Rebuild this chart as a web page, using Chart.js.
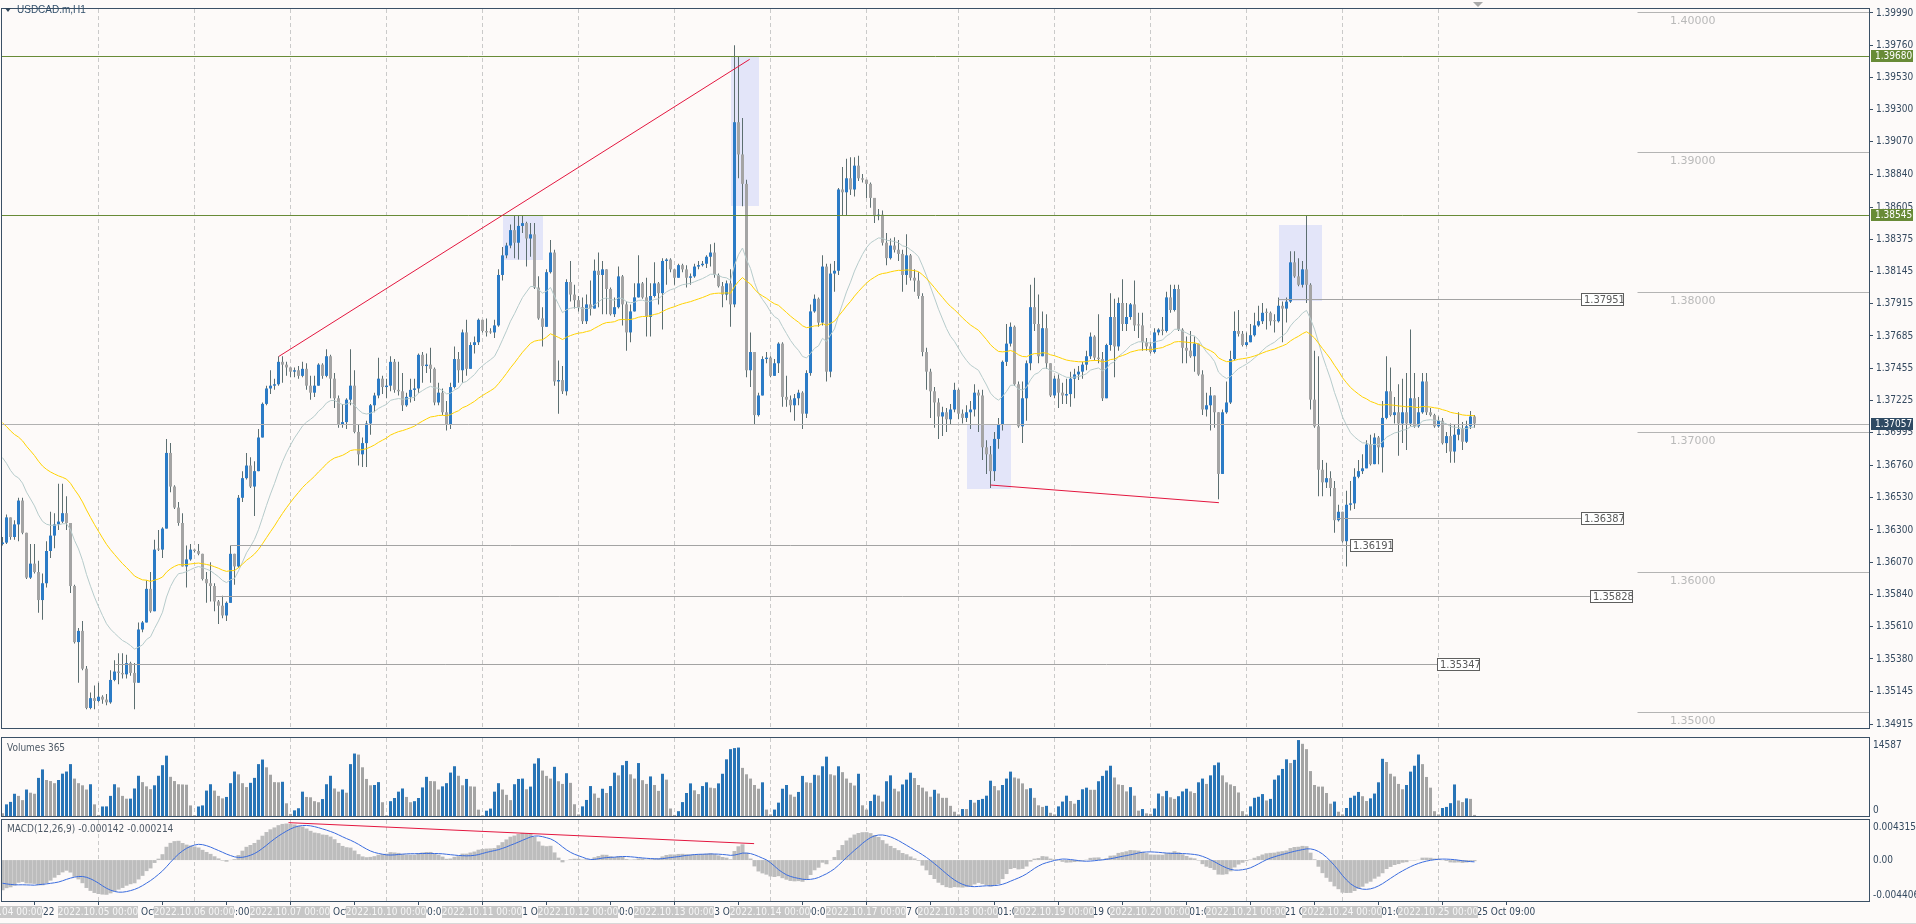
<!DOCTYPE html>
<html>
<head>
<meta charset="utf-8">
<title>USDCAD.m,H1</title>
<script src="https://cdn.jsdelivr.net/npm/chart.js@4.4.1/dist/chart.umd.min.js"></script>
<style>
  html, body { margin: 0; padding: 0; background: #fdfaf9; overflow: hidden; }
  #chartBox { position: relative; width: 1916px; height: 924px; background: #fdfaf9; border-bottom: 1px solid #d8d8d8; box-sizing: border-box; }
  #chartBox canvas { position: absolute; left: 0; }
</style>
</head>
<body>
<div id="chartBox">
  <canvas id="priceChart" width="1916" height="737" style="top:0"></canvas>
  <canvas id="volumeChart" width="1916" height="81" style="top:737px"></canvas>
  <canvas id="macdChart" width="1916" height="106" style="top:818px"></canvas>
</div>
<script>
// ---------------- data (H1 bars, 2022.10.04 00:00 .. 2022.10.25 09:00) ----------------
const firstOpen = 1.3620;

const closes = [
  1.3621,1.3639,1.3625,1.3634,1.3651,1.3628,1.3596,1.3606,1.3600,1.3580,1.3592,1.3615,1.3626,1.3634,1.3636,1.3642,1.3635,1.3590,1.3550,1.3558,1.3531,1.3503,1.3510,1.3508,
  1.3511,1.3509,1.3507,1.3523,1.3529,1.3528,1.3527,1.3535,1.3528,1.3521,1.3559,1.3564,1.3588,1.3572,1.3616,1.3616,1.3631,1.3685,1.3661,1.3646,1.3635,1.3604,1.3609,1.3616,
  1.3615,1.3613,1.3595,1.3592,1.3590,1.3579,1.3576,1.3569,1.3578,1.3613,1.3604,1.3653,1.3667,1.3676,1.3661,1.3672,1.3696,1.3720,1.3731,1.3733,1.3734,1.3750,1.3748,1.3746,
  1.3743,1.3744,1.3740,1.3745,1.3733,1.3728,1.3733,1.3748,1.3740,1.3754,1.3738,1.3724,1.3705,1.3707,1.3723,1.3733,1.3700,1.3684,1.3692,1.3706,1.3719,1.3726,1.3738,1.3732,
  1.3733,1.3750,1.3730,1.3729,1.3719,1.3725,1.3730,1.3731,1.3755,1.3747,1.3748,1.3745,1.3721,1.3728,1.3714,1.3705,1.3732,1.3752,1.3744,1.3771,1.3745,1.3762,1.3764,1.3780,
  1.3772,1.3771,1.3771,1.3776,1.3812,1.3826,1.3833,1.3844,1.3835,1.3847,1.3849,1.3838,1.3841,1.3803,1.3781,1.3775,1.3814,1.3828,1.3736,1.3737,1.3729,1.3807,1.3798,1.3794,
  1.3789,1.3779,1.3791,1.3788,1.3815,1.3812,1.3816,1.3802,1.3784,1.3789,1.3811,1.3791,1.3771,1.3786,1.3796,1.3806,1.3796,1.3782,1.3797,1.3806,1.3799,1.3822,1.3823,1.3816,
  1.3810,1.3819,1.3816,1.3810,1.3811,1.3818,1.3819,1.3820,1.3825,1.3828,1.3812,1.3804,1.3798,1.3806,1.3791,1.3921,1.3898,1.3877,1.3744,1.3757,1.3712,1.3726,1.3752,1.3753,
  1.3740,1.3749,1.3763,1.3725,1.3723,1.3719,1.3724,1.3728,1.3713,1.3742,1.3786,1.3795,1.3778,1.3818,1.3743,1.3813,1.3815,1.3873,1.3871,1.3881,1.3873,1.3890,1.3881,1.3880,
  1.3877,1.3867,1.3854,1.3855,1.3835,1.3824,1.3833,1.3830,1.3827,1.3812,1.3826,1.3810,1.3808,1.3797,1.3757,1.3743,1.3729,1.3721,1.3711,1.3714,1.3709,1.3716,1.3730,
  1.3713,1.3710,1.3714,1.3716,1.3728,1.3726,1.3689,1.3684,1.3672,1.3695,1.3705,1.3750,1.3763,1.3775,1.3734,1.3704,1.3724,1.3749,1.3789,1.3777,1.3754,1.3774,1.3749,1.3726,
  1.3738,1.3728,1.3726,1.3727,1.3738,1.3741,1.3743,1.3748,1.3754,1.3768,1.3753,1.3752,1.3724,1.3762,1.3782,1.3761,1.3792,1.3777,1.3782,1.3791,1.3776,1.3776,1.3764,1.3761,
  1.3757,1.3771,1.3773,1.3772,1.3796,1.3787,1.3802,1.3773,1.3760,1.3758,1.3754,1.3763,1.3741,1.3716,1.3719,1.3726,1.3714,1.3670,1.3714,1.3721,1.3752,1.3772,1.3770,1.3762,
  1.3764,1.3769,1.3776,1.3779,1.3785,1.3785,1.3779,1.3779,1.3790,1.3788,1.3793,1.3821,1.3811,1.3805,1.3816,1.3805,1.3723,1.3704,1.3673,1.3664,1.3667,1.3660,1.3637,1.3643,
  1.3622,1.3648,1.3649,1.3668,1.3672,1.3674,1.3691,1.3677,1.3696,1.3689,1.3710,1.3729,1.3712,1.3714,1.3706,1.3714,1.3706,1.3724,1.3704,1.3714,1.3736,1.3714,1.3712,1.3704,
  1.3708,1.3692,1.3697,1.3686,1.3698,1.3702,1.3693,1.3704,1.3711,1.3706
];

const highs = [
  1.3625,1.3641,1.3639,1.3637,1.3653,1.3653,1.3628,1.3620,1.3620,1.3608,1.3599,1.3622,1.3643,1.3642,1.3663,1.3663,1.3654,1.3635,1.3591,1.3560,1.3565,1.3533,1.3514,1.3519,
  1.3521,1.3512,1.3513,1.3530,1.3537,1.3542,1.3542,1.3541,1.3536,1.3535,1.3564,1.3565,1.3594,1.3600,1.3623,1.3630,1.3632,1.3695,1.3692,1.3662,1.3650,1.3642,1.3619,1.3620,
  1.3616,1.3620,1.3613,1.3600,1.3607,1.3592,1.3580,1.3583,1.3579,1.3619,1.3613,1.3655,1.3672,1.3685,1.3682,1.3679,1.3702,1.3721,1.3733,1.3744,1.3738,1.3754,1.3754,1.3750,
  1.3744,1.3746,1.3747,1.3750,1.3749,1.3740,1.3740,1.3749,1.3749,1.3759,1.3755,1.3742,1.3726,1.3720,1.3724,1.3759,1.3744,1.3705,1.3696,1.3708,1.3720,1.3728,1.3753,1.3740,
  1.3738,1.3754,1.3752,1.3750,1.3742,1.3728,1.3738,1.3738,1.3756,1.3757,1.3756,1.3760,1.3746,1.3735,1.3731,1.3722,1.3735,1.3761,1.3757,1.3773,1.3780,1.3764,1.3768,1.3781,
  1.3777,1.3781,1.3774,1.3780,1.3816,1.3832,1.3835,1.3848,1.3854,1.3854,1.3854,1.3850,1.3849,1.3849,1.3811,1.3789,1.3816,1.3837,1.3830,1.3751,1.3747,1.3809,1.3822,1.3805,
  1.3797,1.3796,1.3798,1.3808,1.3823,1.3828,1.3822,1.3816,1.3803,1.3796,1.3818,1.3812,1.3793,1.3791,1.3806,1.3826,1.3807,1.3810,1.3806,1.3821,1.3807,1.3824,1.3824,1.3824,
  1.3812,1.3820,1.3820,1.3819,1.3813,1.3820,1.3822,1.3822,1.3826,1.3834,1.3835,1.3813,1.3807,1.3808,1.3816,1.3976,1.3968,1.3924,1.3880,1.3771,1.3757,1.3728,1.3754,1.3757,
  1.3754,1.3752,1.3764,1.3764,1.3740,1.3726,1.3727,1.3730,1.3729,1.3744,1.3791,1.3798,1.3796,1.3826,1.3820,1.3820,1.3822,1.3874,1.3889,1.3895,1.3896,1.3896,1.3897,1.3884,
  1.3880,1.3878,1.3867,1.3859,1.3858,1.3842,1.3838,1.3839,1.3837,1.3830,1.3841,1.3827,1.3816,1.3814,1.3799,1.3760,1.3745,1.3732,1.3724,1.3718,1.3717,1.3720,1.3735,
  1.3731,1.3716,1.3719,1.3722,1.3734,1.3730,1.3730,1.3694,1.3690,1.3700,1.3710,1.3751,1.3777,1.3778,1.3776,1.3736,1.3736,1.3751,1.3805,1.3810,1.3798,1.3786,1.3784,1.3745,
  1.3740,1.3741,1.3735,1.3738,1.3743,1.3745,1.3747,1.3750,1.3758,1.3771,1.3769,1.3784,1.3757,1.3763,1.3799,1.3795,1.3796,1.3809,1.3792,1.3792,1.3808,1.3785,1.3785,1.3767,
  1.3764,1.3774,1.3774,1.3782,1.3800,1.3805,1.3805,1.3805,1.3774,1.3768,1.3772,1.3768,1.3763,1.3744,1.3728,1.3732,1.3726,1.3712,1.3716,1.3736,1.3758,1.3786,1.3787,1.3772,
  1.3771,1.3777,1.3785,1.3790,1.3792,1.3788,1.3786,1.3784,1.3796,1.3793,1.3796,1.3829,1.3829,1.3824,1.3822,1.3854,1.3806,1.3758,1.3754,1.3680,1.3678,1.3672,1.3665,1.3648,
  1.3636,1.3658,1.3665,1.3674,1.3680,1.3684,1.3694,1.3698,1.3699,1.3697,1.3722,1.3754,1.3746,1.3725,1.3734,1.3738,1.3742,1.3773,1.3742,1.3725,1.3742,1.3742,1.3717,1.3713,
  1.3711,1.3710,1.3700,1.3706,1.3705,1.3714,1.3707,1.3708,1.3715,1.3712
];

const lows = [
  1.3619,1.3620,1.3623,1.3623,1.3622,1.3627,1.3595,1.3595,1.3599,1.3571,1.3566,1.3589,1.3610,1.3617,1.3630,1.3635,1.3630,1.3585,1.3549,1.3521,1.3530,1.3502,1.3502,1.3502,
  1.3507,1.3506,1.3505,1.3506,1.3522,1.3520,1.3524,1.3524,1.3526,1.3502,1.3521,1.3557,1.3564,1.3571,1.3572,1.3615,1.3610,1.3631,1.3657,1.3645,1.3633,1.3604,1.3589,1.3608,
  1.3614,1.3612,1.3594,1.3578,1.3579,1.3572,1.3563,1.3567,1.3565,1.3578,1.3591,1.3603,1.3650,1.3666,1.3660,1.3640,1.3672,1.3696,1.3719,1.3727,1.3730,1.3733,1.3735,1.3740,
  1.3739,1.3739,1.3738,1.3739,1.3730,1.3723,1.3725,1.3733,1.3738,1.3739,1.3724,1.3717,1.3703,1.3703,1.3702,1.3719,1.3699,1.3676,1.3675,1.3675,1.3698,1.3714,1.3724,1.3727,
  1.3724,1.3729,1.3728,1.3726,1.3715,1.3718,1.3721,1.3722,1.3728,1.3735,1.3742,1.3735,1.3719,1.3719,1.3712,1.3701,1.3702,1.3731,1.3735,1.3735,1.3740,1.3745,1.3756,1.3762,
  1.3771,1.3768,1.3770,1.3767,1.3775,1.3808,1.3824,1.3831,1.3824,1.3823,1.3842,1.3818,1.3825,1.3802,1.3780,1.3761,1.3775,1.3813,1.3733,1.3713,1.3727,1.3726,1.3793,1.3788,
  1.3786,1.3777,1.3777,1.3783,1.3788,1.3789,1.3784,1.3784,1.3783,1.3782,1.3788,1.3776,1.3758,1.3764,1.3786,1.3796,1.3795,1.3768,1.3768,1.3796,1.3791,1.3773,1.3805,1.3814,
  1.3805,1.3810,1.3814,1.3803,1.3805,1.3810,1.3816,1.3818,1.3817,1.3818,1.3810,1.3803,1.3789,1.3794,1.3775,1.3789,1.3881,1.3861,1.3739,1.3732,1.3705,1.3711,1.3726,1.3749,
  1.3739,1.3741,1.3742,1.3718,1.3718,1.3714,1.3708,1.3719,1.3702,1.3710,1.3740,1.3785,1.3775,1.3776,1.3736,1.3739,1.3800,1.3812,1.3854,1.3854,1.3869,1.3868,1.3879,1.3878,
  1.3867,1.3860,1.3849,1.3851,1.3833,1.3819,1.3823,1.3828,1.3822,1.3800,1.3805,1.3808,1.3800,1.3795,1.3754,1.3730,1.3710,1.3703,1.3695,1.3697,1.3700,1.3705,1.3714,
  1.3709,1.3706,1.3707,1.3702,1.3711,1.3700,1.3680,1.3670,1.3660,1.3665,1.3688,1.3701,1.3747,1.3761,1.3733,1.3703,1.3692,1.3708,1.3744,1.3772,1.3749,1.3755,1.3745,1.3725,
  1.3724,1.3717,1.3720,1.3720,1.3718,1.3724,1.3737,1.3738,1.3744,1.3752,1.3751,1.3749,1.3722,1.3724,1.3758,1.3739,1.3758,1.3772,1.3772,1.3780,1.3772,1.3767,1.3758,1.3758,
  1.3756,1.3756,1.3769,1.3769,1.3771,1.3785,1.3786,1.3772,1.3749,1.3749,1.3753,1.3743,1.3740,1.3712,1.3711,1.3701,1.3703,1.3652,1.3670,1.3713,1.3720,1.3751,1.3768,1.3761,
  1.3761,1.3764,1.3768,1.3775,1.3777,1.3773,1.3776,1.3771,1.3778,1.3764,1.3778,1.3792,1.3810,1.3804,1.3803,1.3792,1.3716,1.3703,1.3654,1.3654,1.3660,1.3654,1.3628,1.3636,
  1.3621,1.3604,1.3644,1.3645,1.3667,1.3670,1.3674,1.3676,1.3677,1.3677,1.3671,1.3709,1.3711,1.3706,1.3683,1.3692,1.3687,1.3704,1.3703,1.3703,1.3713,1.3712,1.3711,1.3703,
  1.3703,1.3691,1.3685,1.3678,1.3678,1.3694,1.3687,1.3692,1.3702,1.3703
];

const volumes = [
  528,2178,2640,4158,3762,2970,4950,4356,4158,7128,8712,6732,6534,6138,6732,7920,8316,9702,6996,6138,5742,4950,5940,2178,
  198,1782,1800,3762,5940,5346,3762,3234,3250,5148,7524,6336,5544,5016,5742,7524,9504,11286,7326,6534,5940,5900,5850,1980,
  132,1782,1980,4752,5940,4752,3762,3300,3564,6138,8316,7788,6138,5412,6204,7128,9702,10560,9108,7722,6336,6300,6400,2376,
  396,1056,1452,4554,3564,3500,2772,2574,3168,5940,7524,5148,4554,4950,4356,9702,11682,11484,9108,6930,5742,5800,6336,2574,
  132,2772,3366,4554,5148,3564,2574,2772,3366,5346,7326,6534,6500,4950,5544,6138,8118,9306,7524,5742,6930,5544,5500,1188,
  132,990,1386,4554,6138,4950,3960,2970,5940,6930,7000,5000,5500,9800,10800,8500,7500,7000,9200,6500,6000,8000,6200,2200,
  300,1800,3000,5600,4200,3400,5100,4300,5600,8100,7600,9500,10300,7800,7000,9900,6700,6000,7400,5800,4700,7900,6800,1400,
  200,900,2600,4300,6100,4800,4100,5600,6300,5300,5200,6100,7900,10600,12500,12700,12800,9000,7800,7000,5800,5100,6300,1200,
  300,1200,2500,5100,5800,4000,3600,4500,7500,6300,6200,7700,7600,9300,11100,7800,7600,9300,8200,7000,6200,5700,7900,2000,
  1200,2800,4000,3800,2700,6500,7600,5100,4600,5900,6800,8100,7100,5800,5300,4600,3600,4900,4200,3400,3400,1900,800,
  300,1300,1300,3000,2500,3000,3200,3800,6600,5600,4800,5800,7000,8300,7200,7000,6100,5000,5200,3400,2000,1700,1900,600,
  300,1800,2700,3800,2800,2300,3000,5000,5300,4900,4900,6500,7500,8500,9400,7200,5900,5800,4600,5400,3800,1000,1300,500,
  400,1400,4200,3700,4700,3500,3200,3700,4600,5100,4600,4300,6300,7000,6000,7600,9500,10000,7600,6300,5900,5600,4400,900,
  300,1800,3400,3600,4100,2900,3200,6800,7600,8800,10600,9900,10500,14200,13500,12500,8400,5800,5500,5500,4300,2300,2700,800,
  300,1500,3400,3800,4500,3700,2800,3300,4200,6300,10700,10100,7900,7400,6000,5000,5800,8300,9400,11500,9700,7300,5300,900,
  300,1500,1700,2400,5900,2900,2600,3300,3200,200
];

// indicator start levels seen at the left edge
const grayMaStart = 1.3688;     // EMA 20 (thin grey)
const yellowMaStart = 1.3710;   // EMA 50 (yellow)
const macdFastStart = 1.3645;
const macdSlowStart = 1.3678;
const macdSignalStart = -0.0024;

// axes
const priceMin = 1.34887, priceMax = 1.40018;
const priceTicks = [1.39990,1.39760,1.39530,1.39300,1.39070,1.38840,1.38605,1.38375,1.38145,1.37915,1.37685,
  1.37455,1.37225,1.36995,1.36760,1.36530,1.36300,1.36070,1.35840,1.35610,1.35380,1.35145,1.34915];
const volumeMax = 14587;
const volumeAxisLabels = [14587, 0];
const macdMax = 0.004315, macdMin = -0.004406;
const macdAxisLabels = [0.004315, 0, -0.004406];

const timeTickIndex = [0,16,32,48,64,80,96,112,128,144,160,176,192,208,224,240,256,272,288,304,320,336,352,368];
const timeTickLabels = ['4 Oct 2022','4 Oct 16:00','5 Oct 08:00','6 Oct 00:00','6 Oct 16:00','7 Oct 08:00',
  '10 Oct 00:00','10 Oct 16:00','11 Oct 08:00','12 Oct 00:00','12 Oct 16:00','13 Oct 08:00','14 Oct 00:00',
  '14 Oct 16:00','17 Oct 08:00','18 Oct 01:00','18 Oct 17:00','19 Oct 09:00','20 Oct 01:00','20 Oct 17:00',
  '21 Oct 09:00','24 Oct 01:00','24 Oct 17:00','25 Oct 09:00'];
const dayStarts = [0,24,48,72,96,120,144,168,192,216,239,263,287,311,335,359];
const dayLabels = ['2022.10.04 00:00','2022.10.05 00:00','2022.10.06 00:00','2022.10.07 00:00','2022.10.10 00:00',
  '2022.10.11 00:00','2022.10.12 00:00','2022.10.13 00:00','2022.10.14 00:00','2022.10.17 00:00','2022.10.18 00:00',
  '2022.10.19 00:00','2022.10.20 00:00','2022.10.21 00:00','2022.10.24 00:00','2022.10.25 00:00'];

// drawn objects on the chart (bar index / price)
const greenLevels = [1.39680, 1.38545];
const currentPrice = 1.37057;
const roundLevels = [1.40000, 1.39000, 1.38000, 1.37000, 1.36000, 1.35000];
const roundLevelStart = 408.75;
const supportLevels = [1.37951, 1.36387, 1.36191, 1.35828, 1.35347];
const supportStarts = [319, 333.75, 57, 53.25, 28.25];
const supportEnds = [394.5, 394.5, 336.75, 396.75, 358.5];
const zoneBoxes = [[182, 1.39680, 189, 1.38611], [125, 1.38545, 135, 1.38226], [241, 1.37049, 252, 1.36595], [319.1, 1.38475, 329.9, 1.37935]];
const trendLines = [[69.1, 1.37539, 186.8, 1.39659], [247, 1.36621, 304.1, 1.36495]];
const macdTrendLine = [71.5, 0.00403, 187.9, 0.00177];

// ---------------- derived series ----------------
const opens = closes.map((c, i) => i === 0 ? firstOpen : closes[i - 1]);

function ema(values, period, seed) {
  const k = 2 / (period + 1);
  let prev = seed;
  return values.map(v => (prev = prev + k * (v - prev)));
}
const grayMa = ema(closes, 20, grayMaStart);
const yellowMa = ema(closes, 50, yellowMaStart);
const fastEma = ema(closes, 12, macdFastStart);
const slowEma = ema(closes, 26, macdSlowStart);
const macdMain = fastEma.map((v, i) => v - slowEma[i]);
const macdSignal = macdMain.map((v, i) => {
  let sum = 0;
  for (let j = i - 8; j <= i; j++) sum += j < 0 ? macdSignalStart : macdMain[j];
  return sum / 9;
});

// ---------------- look ----------------
const frameColor = '#3b5066';
const axisText = '#34495f';
const upColor = '#2b7bc6';
const downColor = '#a4a4a4';
const wickColor = '#5c6e70';
const volUp = '#2874b6';
const sepColor = '#cacaca';
const axisFont = { family: "'DejaVu Sans Condensed','Liberation Sans Narrow','DejaVu Sans',sans-serif", size: 10 };
const fontStr = "10px 'DejaVu Sans Condensed','Liberation Sans Narrow','DejaVu Sans',sans-serif";
const titleFont = "10px 'Liberation Sans','DejaVu Sans',sans-serif";
const axisWidth = 47;
const xMin = -0.125, xMax = -0.125 + (1869 - 2) / 4;

Chart.defaults.font.family = axisFont.family;
Chart.defaults.font.size = 10;
Chart.defaults.color = axisText;

const idx = closes.map((_, i) => i);

function hiddenX() {
  return { type: 'linear', min: xMin, max: xMax, display: false, offset: false };
}
function fixedY(min, max) {
  return {
    position: 'right', min: min, max: max,
    afterFit: ax => { ax.width = axisWidth; },
    ticks: { display: false }, grid: { display: false }, border: { display: false }
  };
}

function drawSeparators(chart) {
  const { ctx, chartArea: a, scales: { x } } = chart;
  ctx.save();
  ctx.strokeStyle = sepColor;
  ctx.lineWidth = 1;
  ctx.setLineDash([4, 3]);
  dayStarts.forEach(d => {
    if (d === 0) return;
    const px = Math.floor(x.getPixelForValue(d)) + 0.5;
    ctx.beginPath();
    ctx.moveTo(px, a.top);
    ctx.lineTo(px, a.bottom);
    ctx.stroke();
  });
  ctx.restore();
}

function drawFrame(chart) {
  const { ctx, chartArea: a } = chart;
  ctx.save();
  ctx.strokeStyle = frameColor;
  ctx.lineWidth = 1;
  ctx.strokeRect(a.left - 0.5, a.top - 0.5, a.right - a.left + 1, a.bottom - a.top + 1);
  ctx.restore();
}

function hLine(ctx, x0, x1, y, color) {
  const yy = Math.round(y) + 0.5;
  ctx.strokeStyle = color;
  ctx.beginPath();
  ctx.moveTo(x0, yy);
  ctx.lineTo(x1, yy);
  ctx.stroke();
}

function axisBox(ctx, y, text, fill) {
  const top = Math.round(y) - 6;
  ctx.fillStyle = fill;
  ctx.fillRect(1871, top, 42, 12);
  ctx.fillStyle = '#ffffff';
  ctx.font = fontStr;
  ctx.textBaseline = 'middle';
  ctx.textAlign = 'left';
  ctx.fillText(text, 1875, top + 6.5);
}

function sideLabels(chart, values, fmt) {
  const { ctx, chartArea: a, scales: { y } } = chart;
  ctx.save();
  ctx.fillStyle = axisText;
  ctx.font = fontStr;
  ctx.textBaseline = 'middle';
  ctx.textAlign = 'left';
  values.forEach(v => {
    let py = y.getPixelForValue(v);
    py = Math.max(a.top + 7, Math.min(a.bottom - 6, py));
    ctx.fillText(fmt(v), 1873, py);
  });
  ctx.restore();
}

// ---------------- price pane ----------------
const priceOverlay = {
  id: 'priceOverlay',
  beforeDatasetsDraw(chart) {
    const { ctx, scales: { x, y } } = chart;
    drawSeparators(chart);
    ctx.save();
    ctx.fillStyle = '#e3e5f9';
    zoneBoxes.forEach(([i0, p0, i1, p1]) => {
      const l = x.getPixelForValue(i0), r = x.getPixelForValue(i1);
      const t = y.getPixelForValue(p0), b = y.getPixelForValue(p1);
      ctx.fillRect(Math.round(l), Math.round(t), Math.round(r - l), Math.round(b - t));
    });
    ctx.restore();
  },
  afterDatasetsDraw(chart) {
    const { ctx, chartArea: a, scales: { x, y } } = chart;
    ctx.save();
    ctx.beginPath();
    ctx.rect(a.left, a.top, a.right - a.left, a.bottom - a.top);
    ctx.clip();
    ctx.lineWidth = 1;

    // round price levels on the right
    roundLevels.forEach(p => {
      const py = y.getPixelForValue(p);
      hLine(ctx, x.getPixelForValue(roundLevelStart), a.right, py, '#b4b4b4');
      ctx.fillStyle = '#b9b9b9';
      ctx.font = "11px 'DejaVu Sans',sans-serif";
      ctx.textBaseline = 'top';
      ctx.textAlign = 'left';
      ctx.fillText(p.toFixed(5), 1670, Math.round(py) + 4);
    });

    // current price
    hLine(ctx, a.left, a.right, y.getPixelForValue(currentPrice), '#b1b1b1');

    // support / resistance segments with labels
    supportLevels.forEach((p, k) => {
      const py = y.getPixelForValue(p);
      const x0 = x.getPixelForValue(supportStarts[k]);
      const x1 = Math.round(x.getPixelForValue(supportEnds[k]));
      hLine(ctx, x0, x1, py, '#a3a3a3');
      const top = Math.round(py) - 6;
      ctx.fillStyle = '#ffffff';
      ctx.fillRect(x1, top, 43, 13);
      ctx.strokeStyle = '#5f5f5f';
      ctx.strokeRect(x1 + 0.5, top + 0.5, 42, 12);
      ctx.fillStyle = '#5a5a5a';
      ctx.font = "11px 'DejaVu Sans Condensed','DejaVu Sans',sans-serif";
      ctx.textBaseline = 'middle';
      ctx.textAlign = 'left';
      ctx.fillText(p.toFixed(5), x1 + 3, top + 7);
    });

    // green levels
    greenLevels.forEach(p => hLine(ctx, a.left, a.right, y.getPixelForValue(p), '#688b37'));

    // red trend lines
    ctx.strokeStyle = '#e3163f';
    trendLines.forEach(([i0, p0, i1, p1]) => {
      ctx.beginPath();
      ctx.moveTo(x.getPixelForValue(i0), y.getPixelForValue(p0));
      ctx.lineTo(x.getPixelForValue(i1), y.getPixelForValue(p1));
      ctx.stroke();
    });
    ctx.restore();
  },
  afterDraw(chart) {
    const { ctx, scales: { y } } = chart;
    drawFrame(chart);
    ctx.save();
    // title
    ctx.fillStyle = '#2f4458';
    ctx.beginPath();
    ctx.moveTo(5, 8); ctx.lineTo(11, 8); ctx.lineTo(8, 12); ctx.closePath(); ctx.fill();
    ctx.fillStyle = '#33506b';
    ctx.font = titleFont;
    ctx.textBaseline = 'middle';
    ctx.textAlign = 'left';
    ctx.fillText('USDCAD.m,H1', 17, 10.5);
    // chart shift marker
    ctx.fillStyle = '#a9a9a9';
    ctx.beginPath();
    ctx.moveTo(1473, 2); ctx.lineTo(1483, 2); ctx.lineTo(1478, 7); ctx.closePath(); ctx.fill();
    // axis price boxes
    greenLevels.forEach(p => axisBox(ctx, y.getPixelForValue(p), p.toFixed(5), '#688b37'));
    axisBox(ctx, y.getPixelForValue(currentPrice), currentPrice.toFixed(5), '#2f4a63');
    ctx.restore();
  }
};

new Chart(document.getElementById('priceChart'), {
  type: 'bar',
  data: {
    datasets: [
      {
        type: 'line', order: 0,
        data: idx.map(i => ({ x: i, y: yellowMa[i] })),
        borderColor: '#ffd200', borderWidth: 1, pointRadius: 0, tension: 0
      },
      {
        type: 'line', order: 0,
        data: idx.map(i => ({ x: i, y: grayMa[i] })),
        borderColor: '#b6cbcb', borderWidth: 1, pointRadius: 0, tension: 0
      },
      {
        type: 'bar', order: 1, grouped: false,
        data: idx.map(i => ({ x: i, y: [opens[i], closes[i]] })),
        backgroundColor: idx.map(i => closes[i] > opens[i] ? upColor : downColor),
        barThickness: 3, minBarLength: 1, borderWidth: 0, inflateAmount: 0
      },
      {
        type: 'bar', order: 2, grouped: false,
        data: idx.map(i => ({ x: i, y: [Math.min(lows[i], opens[i], closes[i]), Math.max(highs[i], opens[i], closes[i])] })),
        backgroundColor: wickColor,
        barThickness: 1, minBarLength: 1, borderWidth: 0, inflateAmount: 0
      }
    ]
  },
  options: {
    responsive: false, animation: false, devicePixelRatio: 1, events: [],
    layout: { padding: { left: 2, top: 2, right: 0, bottom: 1 } },
    plugins: { legend: { display: false }, tooltip: { enabled: false } },
    scales: {
      x: hiddenX(),
      y: {
        position: 'right', min: priceMin, max: priceMax,
        afterBuildTicks: ax => { ax.ticks = priceTicks.map(v => ({ value: v })); },
        afterFit: ax => { ax.width = axisWidth; },
        ticks: { autoSkip: false, color: axisText, font: axisFont, padding: 3, callback: v => v.toFixed(5) },
        grid: { drawOnChartArea: false, drawTicks: true, tickLength: 4, color: frameColor },
        border: { display: false }
      }
    }
  },
  plugins: [priceOverlay]
});

// ---------------- volume pane ----------------
const volumeOverlay = {
  id: 'volumeOverlay',
  beforeDatasetsDraw(chart) { drawSeparators(chart); },
  afterDraw(chart) {
    const { ctx } = chart;
    drawFrame(chart);
    ctx.save();
    ctx.fillStyle = '#4d5966';
    ctx.font = fontStr;
    ctx.textBaseline = 'middle';
    ctx.textAlign = 'left';
    ctx.fillText('Volumes 365', 7, 11);
    ctx.restore();
    sideLabels(chart, volumeAxisLabels, v => String(v));
  }
};

new Chart(document.getElementById('volumeChart'), {
  type: 'bar',
  data: {
    datasets: [{
      data: idx.map(i => ({ x: i, y: volumes[i] })),
      backgroundColor: idx.map(i => i > 0 && volumes[i] > volumes[i - 1] ? volUp : downColor),
      barThickness: 3, borderWidth: 0, inflateAmount: 0
    }]
  },
  options: {
    responsive: false, animation: false, devicePixelRatio: 1, events: [],
    layout: { padding: { left: 2, top: 1, right: 0, bottom: 2 } },
    plugins: { legend: { display: false }, tooltip: { enabled: false } },
    scales: { x: hiddenX(), y: fixedY(0, volumeMax) }
  },
  plugins: [volumeOverlay]
});

// ---------------- MACD pane + time axis ----------------
const macdOverlay = {
  id: 'macdOverlay',
  beforeDatasetsDraw(chart) { drawSeparators(chart); },
  afterDatasetsDraw(chart) {
    const { ctx, chartArea: a, scales: { x, y } } = chart;
    ctx.save();
    ctx.beginPath();
    ctx.rect(a.left, a.top, a.right - a.left, a.bottom - a.top);
    ctx.clip();
    ctx.strokeStyle = '#e3163f';
    ctx.lineWidth = 1;
    ctx.beginPath();
    ctx.moveTo(x.getPixelForValue(macdTrendLine[0]), y.getPixelForValue(macdTrendLine[1]));
    ctx.lineTo(x.getPixelForValue(macdTrendLine[2]), y.getPixelForValue(macdTrendLine[3]));
    ctx.stroke();
    ctx.restore();
  },
  afterDraw(chart) {
    const { ctx, chartArea: a, scales: { x } } = chart;
    drawFrame(chart);
    ctx.save();
    ctx.fillStyle = '#4d5966';
    ctx.font = fontStr;
    ctx.textBaseline = 'middle';
    ctx.textAlign = 'left';
    ctx.fillText('MACD(12,26,9) -0.000142 -0.000214', 7, 11);
    // day separator labels on the time scale
    ctx.beginPath();
    ctx.rect(0, a.bottom + 1, a.right, 30);
    ctx.clip();
    dayStarts.forEach((d, k) => {
      const cx = Math.floor(x.getPixelForValue(d));
      ctx.fillStyle = '#c7c7c7';
      ctx.fillRect(cx - 40, a.bottom + 5, 80, 12);
      ctx.fillStyle = '#f7f7f7';
      ctx.textAlign = 'center';
      ctx.fillText(dayLabels[k], cx, a.bottom + 11.5);
    });
    ctx.restore();
    sideLabels(chart, macdAxisLabels, v => v === 0 ? '0.00' : v.toFixed(6));
  }
};

new Chart(document.getElementById('macdChart'), {
  type: 'bar',
  data: {
    datasets: [
      {
        type: 'line', order: 0,
        data: idx.map(i => ({ x: i, y: macdSignal[i] })),
        borderColor: '#3a6cde', borderWidth: 1, pointRadius: 0, tension: 0
      },
      {
        type: 'bar', order: 1,
        data: idx.map(i => ({ x: i, y: macdMain[i] })),
        backgroundColor: '#bdbdbd', barThickness: 4, borderWidth: 0, inflateAmount: 0
      }
    ]
  },
  options: {
    responsive: false, animation: false, devicePixelRatio: 1, events: [],
    layout: { padding: { left: 2, top: 2, right: 0, bottom: 0 } },
    plugins: { legend: { display: false }, tooltip: { enabled: false } },
    scales: {
      x: {
        type: 'linear', min: xMin, max: xMax, offset: false, position: 'bottom',
        afterBuildTicks: ax => { ax.ticks = timeTickIndex.map(v => ({ value: v })); },
        afterFit: ax => { ax.height = 23; },
        ticks: {
          autoSkip: false, maxRotation: 0, align: 'start', labelOffset: 2, padding: 1,
          color: axisText, font: axisFont,
          callback: v => timeTickLabels[timeTickIndex.indexOf(v)]
        },
        grid: { drawOnChartArea: false, drawTicks: true, tickLength: 4, color: frameColor },
        border: { display: false }
      },
      y: fixedY(macdMin, macdMax)
    }
  },
  plugins: [macdOverlay]
});
</script>
</body>
</html>
